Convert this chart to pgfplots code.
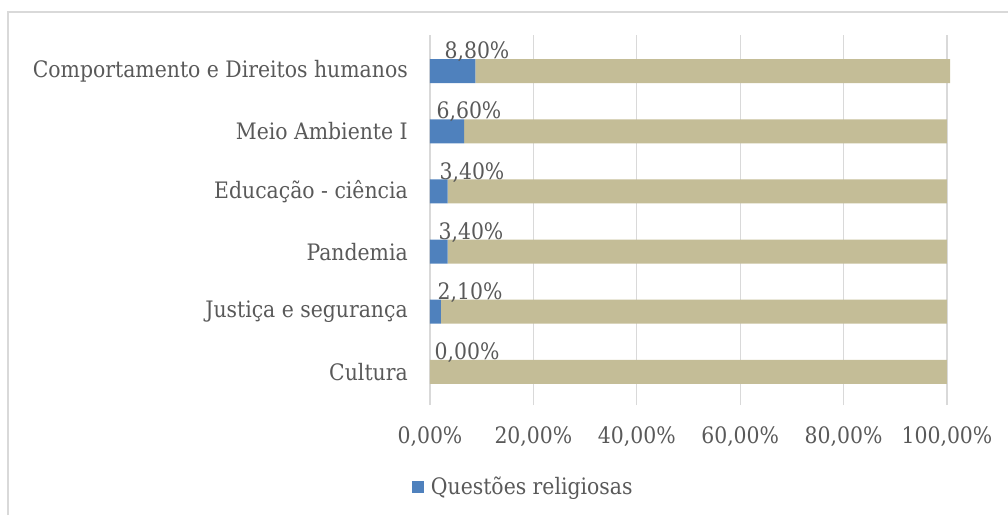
\documentclass[border=0pt]{standalone}
\usepackage{pgfplots}
\pgfplotsset{compat=1.18}
\usepackage{pgfplotstable}
\usepackage{fontspec}
\setmainfont{DejaVu Serif Condensed}
\definecolor{qblue}{HTML}{4F81BD}
\definecolor{qtan}{HTML}{C4BD97}
\definecolor{qtext}{HTML}{595959}
\definecolor{qgrid}{HTML}{D9D9D9}

\pgfplotstableread{
y blue tan
0 0 100
1 2.1 97.9
2 3.4 96.6
3 3.4 96.6
4 6.6 93.4
5 8.8 91.8
}\datatable

\pgfplotstableread{
ly lx label
0.32 7.16 0,00\%
1.32 7.74 2,10\%
2.32 7.93 3,40\%
3.32 8.12 3,40\%
4.32 7.54 6,60\%
5.32 9.09 8,80\%
}\labeltable

\newcommand{\qfont}{\fontsize{17}{20}\selectfont}

\pgfplotsset{myaxis/.style={
  scale only axis, width=387.75pt, height=277.5pt,
  at={(322.5pt,82.5pt)}, anchor=south west,
  xmin=0, xmax=100, ymin=-0.55, ymax=5.6}}

\begin{document}
\begin{tikzpicture}
\path[use as bounding box] (0,0) rectangle (756pt,386.25pt);
\draw[qgrid, line width=1.5pt] (6pt,0) -- (6pt,376.9pt) -- (760pt,376.9pt);
\begin{axis}[myaxis, clip=false,
  xbar stacked, bar width=18pt,
  axis line style={draw=none},
  xmajorgrids, grid style={qgrid, line width=1pt},
  major tick length=0pt,
  xtick={0,20,40,60,80,100},
  xticklabels={{0,00\%},{20,00\%},{40,00\%},{60,00\%},{80,00\%},{100,00\%}},
  ytick={0,1,2,3,4,5},
  yticklabels={Cultura, Justiça e segurança, Pandemia, Educação - ciência, Meio Ambiente I, Comportamento e Direitos humanos},
  ticklabel style={font=\qfont, text=qtext, inner sep=0pt},
  xticklabel style={anchor=center, yshift=-24pt},
  yticklabel style={anchor=east, xshift=-16.5pt},
  legend style={draw=none, fill=none, at={(axis description cs:0,0)}, anchor=west,
    xshift=-13.5pt, yshift=-61.5pt, inner sep=0pt, font=\qfont, text=qtext,
    nodes={inner sep=1pt}},
  legend cell align=left,
  legend image code/.code={\fill[qblue] (0pt,-4.5pt) rectangle (9pt,4.5pt); \path (13pt,0pt);},
]
\addplot[fill=qblue, draw=none] table[x=blue, y=y] {\datatable};
\addlegendentry{Questões religiosas}
\addplot[fill=qtan, draw=none] table[x=tan, y=y] {\datatable};
\end{axis}
\begin{axis}[myaxis, hide axis,
  nodes near coords, point meta=explicit symbolic,
  nodes near coords style={font=\qfont, text=qtext, anchor=center, inner sep=0pt}]
\addplot[only marks, mark=*, mark size=0pt, mark options={draw=none, fill=none}]
  table[x=lx, y=ly, meta=label] {\labeltable};
\end{axis}
\end{tikzpicture}
\end{document}
